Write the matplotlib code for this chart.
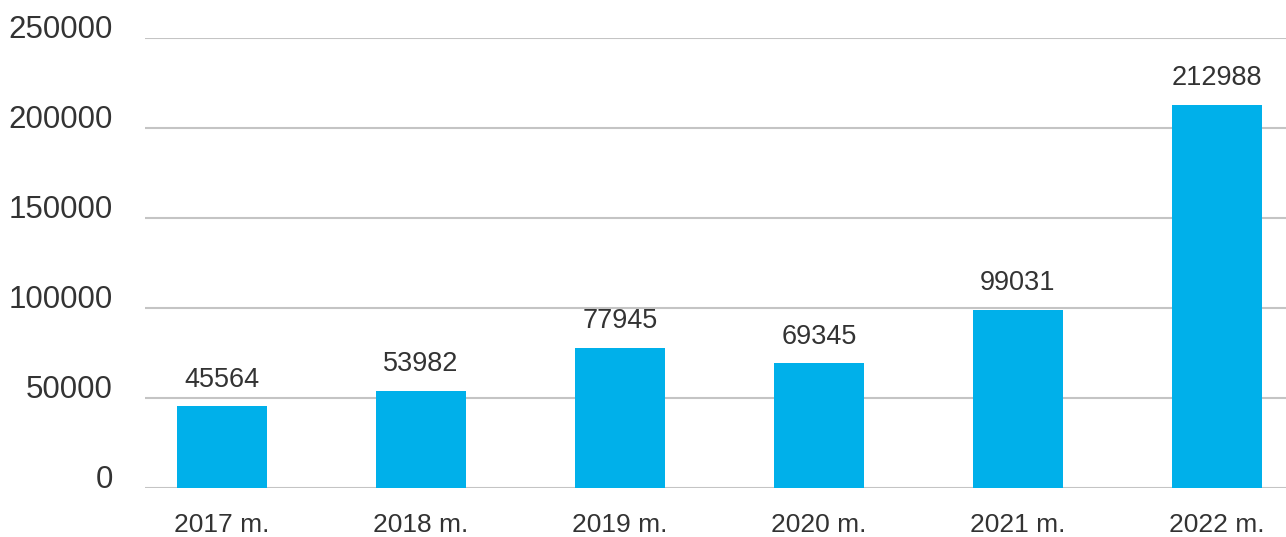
import matplotlib.pyplot as plt

years = ["2017 m.", "2018 m.", "2019 m.", "2020 m.", "2021 m.", "2022 m."]
values = [45564, 53982, 77945, 69345, 99031, 212988]
yticks = [0, 50000, 100000, 150000, 200000, 250000]

plt.rcParams['font.family'] = ['Liberation Sans', 'DejaVu Sans']
text_color = "#333333"

fig = plt.figure(figsize=(12.86, 5.37), dpi=100)
ax = fig.add_axes([145 / 1286, 49 / 537, 1 - 145 / 1286, 450 / 537])

x = list(range(len(years)))
bars = ax.bar(x, values, width=0.452, color="#00b0ea", zorder=3)

for xi, v in zip(x, values):
    ax.annotate(str(v), (xi, v), xytext=(0, 14), textcoords="offset points",
                ha="center", va="baseline", fontsize=19.5, color=text_color)

ax.set_xlim(-0.387, 5.347)
ax.set_ylim(0, 250000)
ax.set_yticks(yticks)
ax.set_yticklabels([str(t) for t in yticks])
ax.set_xticks(x)
ax.set_xticklabels(years)

for lab in ax.get_yticklabels():
    lab.set_verticalalignment("baseline")

ax.tick_params(axis="y", length=0, pad=23, labelsize=22.5, labelcolor=text_color)
ax.tick_params(axis="x", length=0, pad=18, labelsize=19, labelcolor=text_color)

ax.grid(axis="y", color="#c4c4c4", linewidth=1.5, zorder=0)
ax.set_axisbelow(True)
for s in ax.spines.values():
    s.set_visible(False)

fig.savefig("out.png", dpi=100)
